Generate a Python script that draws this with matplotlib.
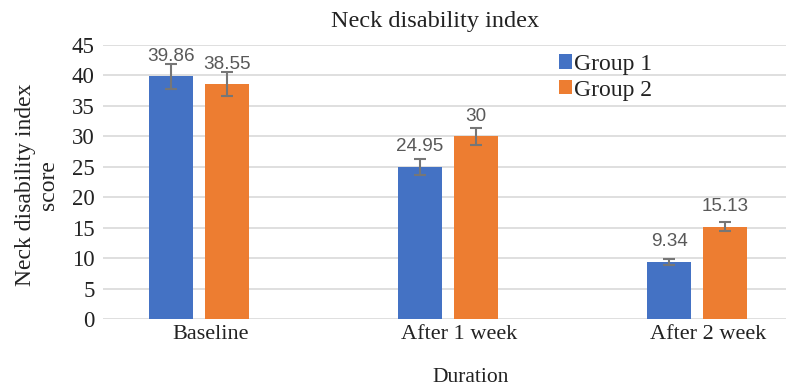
import numpy as np
import matplotlib.pyplot as plt

categories = ["Baseline", "After 1 week", "After 2 week"]
group1 = [39.86, 24.95, 9.34]
group2 = [38.55, 30, 15.13]
group1_err = [2.05, 1.3, 0.45]
group2_err = [2.0, 1.4, 0.75]
yticks = [0, 5, 10, 15, 20, 25, 30, 35, 40, 45]

BLUE = "#4472C4"
ORANGE = "#ED7D31"
SERIF = "Liberation Serif"

fig = plt.figure(figsize=(7.87, 3.90), dpi=100)
ax = fig.add_axes([103 / 787, 1 - 319 / 390, 683 / 787, 274 / 390])

x = np.arange(len(categories))
w = 0.177
off = 0.1124

err_kw = dict(ecolor="#767676", elinewidth=1.5, capsize=4.5, capthick=1.5)
b1 = ax.bar(x - off, group1, w, color=BLUE, yerr=group1_err, error_kw=err_kw,
            label="Group 1", zorder=3)
b2 = ax.bar(x + off, group2, w, color=ORANGE, yerr=group2_err, error_kw=err_kw,
            label="Group 2", zorder=3)

for bars, vals in [(b1, group1), (b2, group2)]:
    for rect, v in zip(bars, vals):
        ax.annotate(f"{v:g}", (rect.get_x() + rect.get_width() / 2, v),
                    xytext=(0, 11.3), textcoords="offset points",
                    ha="center", va="baseline", fontsize=13.6,
                    color="#595959", family="Liberation Sans")

ax.set_xlim(-0.3855, 2.357)
ax.set_ylim(0, 45)
ax.set_yticks(yticks)
ax.set_xticks(x + 0.045)
ax.set_xticklabels(categories, family=SERIF, fontsize=16, color="#222222")
for lbl in ax.get_yticklabels():
    lbl.set_family(SERIF)
    lbl.set_fontsize(16.5)
    lbl.set_color("#222222")
ax.tick_params(axis="both", length=0)
ax.tick_params(axis="y", pad=6)
ax.tick_params(axis="x", pad=4)

ax.grid(axis="y", color="#d9d9d9", linewidth=1.2, zorder=0)
ax.set_axisbelow(True)
for s in ax.spines.values():
    s.set_visible(False)

fig.text(435 / 787, 1 - 22 / 390, "Neck disability index", ha="center", va="center",
         family=SERIF, fontsize=17.5, color="#222222")
fig.text(37 / 787, 1 - 185 / 390, "Neck disability index\nscore", ha="center",
         va="center", rotation=90, family=SERIF, fontsize=17, color="#222222",
         linespacing=1.15)
fig.text(471 / 787, 1 - 377 / 390, "Duration", ha="center", va="center",
         family=SERIF, fontsize=15.5, color="#222222")

leg = ax.legend(loc="upper left", bbox_to_anchor=(0.636, 1.045), frameon=False,
                prop={"family": SERIF, "size": 17}, handlelength=0.55,
                handleheight=0.55, handletextpad=0.1, labelspacing=0.2)
for t in leg.get_texts():
    t.set_color("#222222")

fig.savefig("out.png", dpi=100)
